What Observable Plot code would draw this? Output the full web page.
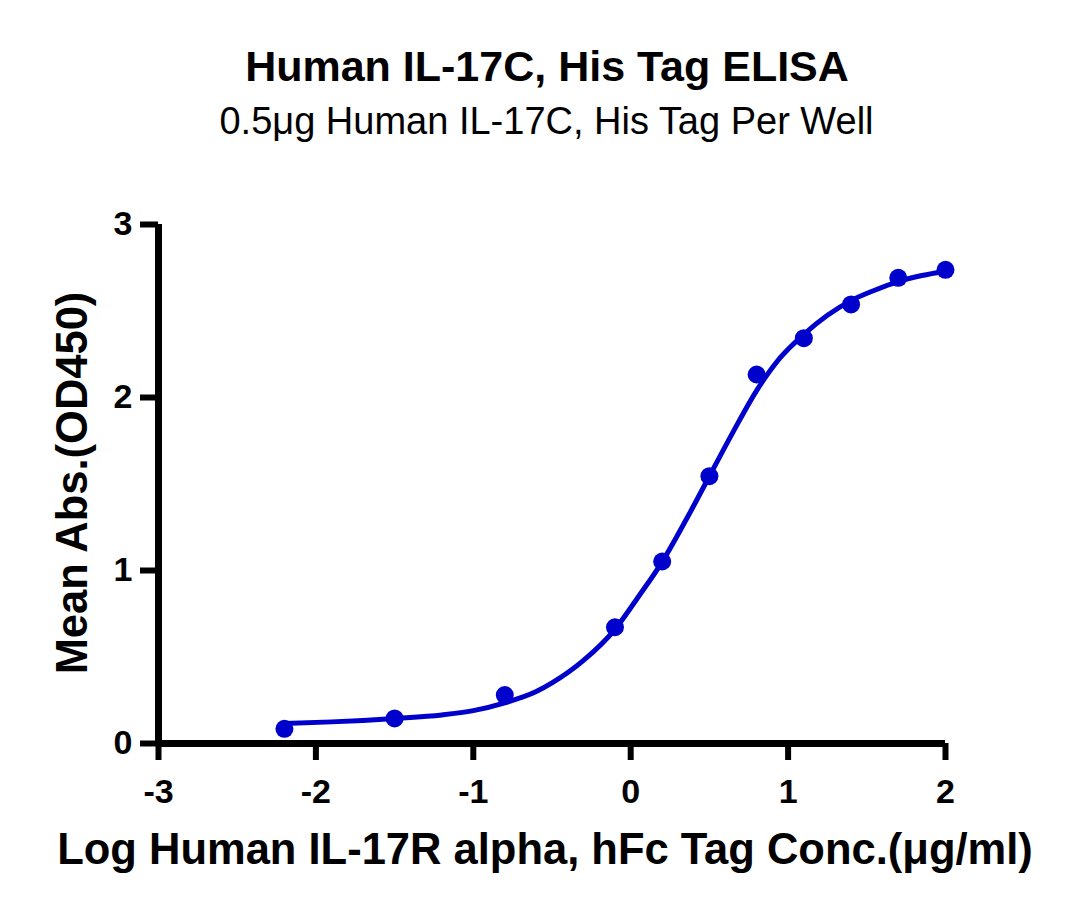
<!DOCTYPE html>
<html>
<head>
<meta charset="utf-8">
<script src="https://cdn.jsdelivr.net/npm/d3@7"></script>
<script src="https://cdn.jsdelivr.net/npm/@observablehq/plot@0.6"></script>
<style>
  html, body { margin: 0; padding: 0; background: #fff; }
  #wrap { position: relative; width: 1080px; height: 921px; font-family: "Liberation Sans", Arial, sans-serif; color: #000; }
  .abs { position: absolute; white-space: nowrap; line-height: 1; }
  #title { left: 0; width: 1094px; text-align: center; top: 45px; font-size: 43px; font-weight: bold; }
  #subtitle { left: 0; width: 1093px; text-align: center; top: 102px; font-size: 38px; }
  #xlabel { left: 0; width: 1090px; text-align: center; top: 828px; font-size: 43.5px; font-weight: bold; }
  #ylabel { left: 73px; top: 483px; font-size: 43.5px; font-weight: bold; transform: translate(-50%, -50%) rotate(-90deg); }
</style>
</head>
<body>
<div id="wrap">
  <div id="chart"></div>
  <div class="abs" id="title">Human IL-17C, His Tag ELISA</div>
  <div class="abs" id="subtitle">0.5μg Human IL-17C, His Tag Per Well</div>
  <div class="abs" id="xlabel">Log Human IL-17R alpha, hFc Tag Conc.(μg/ml)</div>
  <div class="abs" id="ylabel">Mean Abs.(OD450)</div>
</div>
<script>
// Tick values
const xTicks = [-3, -2, -1, 0, 1, 2];
const yTicks = [0, 1, 2, 3];

// Measured points (log concentration, mean OD450)
const pointLogConc = [-2.2, -1.5, -0.8, -0.1, 0.2, 0.5, 0.8, 1.1, 1.4, 1.7, 2.0];
const pointOD = [0.085, 0.145, 0.28, 0.672, 1.052, 1.545, 2.133, 2.343, 2.538, 2.692, 2.738];

// Fitted curve
const curveLogConc = [-2.2, -1.9, -1.5, -1.2, -1.0, -0.8, -0.6, -0.5, -0.3, -0.1, 0.05, 0.2, 0.35, 0.5, 0.65, 0.8, 0.95, 1.1, 1.25, 1.4, 1.55, 1.7, 1.85, 2.0];
const curveOD = [0.115, 0.125, 0.145, 0.165, 0.19, 0.235, 0.3, 0.35, 0.48, 0.66, 0.85, 1.05, 1.29, 1.545, 1.8, 2.04, 2.23, 2.365, 2.475, 2.56, 2.62, 2.67, 2.705, 2.73];

const points = pointLogConc.map((x, i) => ({x, y: pointOD[i]}));
const curve = curveLogConc.map((x, i) => ({x, y: curveOD[i]}));

const blue = "#0000cc";

const chart = Plot.plot({
  width: 1080,
  height: 921,
  marginLeft: 158,
  marginRight: 135,
  marginTop: 224,
  marginBottom: 178,
  x: {domain: [-3, 2]},
  y: {domain: [0, 3]},
  style: {fontFamily: "'Liberation Sans', Arial, sans-serif", color: "#000", background: "#fff"},
  marks: [
    Plot.axisX({ticks: xTicks, tickSize: 17, strokeWidth: 6, tickPadding: 18, fontSize: 34, fontWeight: "bold", label: null, tickFormat: d => String(d)}),
    Plot.axisY({ticks: yTicks, tickSize: 18, strokeWidth: 6, tickPadding: 8, fontSize: 34, fontWeight: "bold", label: null, tickFormat: d => String(d)}),
    Plot.ruleY([0], {x1: -3, x2: 2, stroke: "#000", strokeWidth: 7}),
    Plot.ruleX([-3], {y1: 0, y2: 3, stroke: "#000", strokeWidth: 7}),
    Plot.line(curve, {x: "x", y: "y", stroke: blue, strokeWidth: 5, curve: "monotone-x"}),
    Plot.dot(points, {x: "x", y: "y", r: 9, fill: blue, stroke: "none"})
  ]
});
document.getElementById("chart").appendChild(chart);
</script>
</body>
</html>
